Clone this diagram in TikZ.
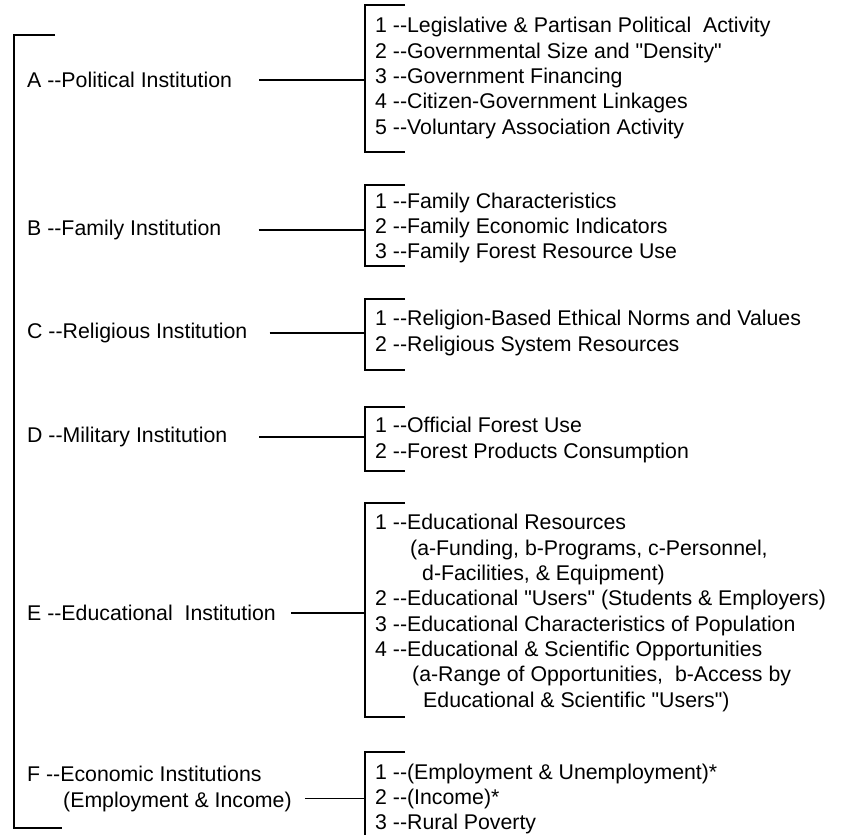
\documentclass[tikz,border=0pt]{standalone}
\usepackage{fontspec}
\setmainfont{Liberation Sans}[Ligatures=TeXOff]
\newcommand{\dsh}{-{}-}
\tikzset{
  lbl/.style={anchor=west, inner sep=0pt, align=left, font=\fontsize{21.3}{25.3}\selectfont},
  brk/.style={line width=1.6pt},
}
\begin{document}
\begin{tikzpicture}[x=1pt,y=-1pt]
  \useasboundingbox (0,0) rectangle (845,835);
  % Outer bracket
  \draw[brk] (55,35) -- (14,35) -- (14,828) -- (62,828);
  % Institutions
  \node[lbl] (lA) at (27,80) {A \dsh Political Institution};
  \node[lbl] (lB) at (27,230) {B \dsh Family Institution};
  \node[lbl] (lC) at (27,333) {C \dsh Religious Institution};
  \node[lbl] (lD) at (27,437) {D \dsh Military Institution};
  \node[lbl] (lE) at (27,613) {E \dsh Educational~ Institution};
  \node[lbl] (lF) at (27,789) {F \dsh Economic Institutions\\\hspace*{36pt}(Employment \& Income)};
  % Sub-brackets
  \foreach \g/\ya/\yb in {A/5/152, B/185/266, C/299/370, D/407/471, E/503/717}
    \draw[brk] (405,\ya) -- (365,\ya) coordinate (t\g) -- (365,\yb) -- (405,\yb);
  \draw[brk] (405,752) -- (365,752) coordinate (tF) -- (365,835);
  % Connectors
  \foreach \g/\gap in {A/27, B/37, C/22, D/32, E/15}
    \draw[brk] ([xshift=\gap pt]l\g.east) -- (l\g.east -| t\g);
  \draw[brk] ([xshift=13pt,yshift=-9.5pt]lF.east) coordinate (cF) -- (cF -| tF);
  % Indicators
  \node[lbl] (iA) at (375,78) {1 \dsh Legislative \& Partisan Political~ Activity\\
    2 \dsh Governmental Size and "Density"\\
    3 \dsh Government Financing\\
    4 \dsh Citizen-Government Linkages\\
    5 \dsh Voluntary Association Activity};
  \node[lbl] (iB) at (375,228) {1 \dsh Family Characteristics\\
    2 \dsh Family Economic Indicators\\
    3 \dsh Family Forest Resource Use};
  \node[lbl] (iC) at (375,333) {1 \dsh Religion-Based Ethical Norms and Values\\
    2 \dsh Religious System Resources};
  \node[lbl] (iD) at (375,440) {1 \dsh Official Forest Use\\
    2 \dsh Forest Products Consumption};
  \node[lbl] (iE) at (375,613) {1 \dsh Educational Resources\\
    \hspace*{35pt}(a-Funding, b-Programs, c-Personnel,\\
    \hspace*{47pt}d-Facilities, \& Equipment)\\
    2 \dsh Educational "Users" (Students \& Employers)\\
    3 \dsh Educational Characteristics of Population\\
    4 \dsh Educational \& Scientific Opportunities\\
    \hspace*{37pt}(a-Range of Opportunities,~ b-Access by\\
    \hspace*{48pt}Educational \& Scientific "Users")};
  \node[lbl] (iF) at (375,799) {1 \dsh(Employment \& Unemployment)*\\
    2 \dsh(Income)*\\
    3 \dsh Rural Poverty};
\end{tikzpicture}
\end{document}
